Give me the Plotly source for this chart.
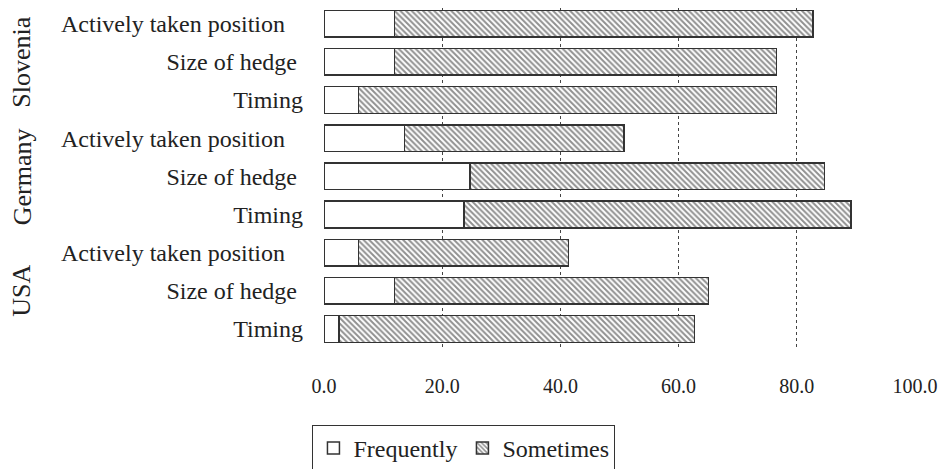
import plotly.graph_objects as go

# ---------------------------------------------------------------------------
# Data (top row first)
# ---------------------------------------------------------------------------
countries = ["Slovenia", "Germany", "USA"]
aspects = ["Actively taken position", "Size of hedge", "Timing"]
frequently = [11.9, 11.9, 5.8, 13.6, 24.7, 23.7, 5.8, 11.9, 2.5]
sometimes = [70.8, 64.7, 70.8, 37.2, 60.0, 65.5, 35.6, 53.2, 60.2]
x_ticks = [0, 20, 40, 60, 80, 100]

FONT = "Liberation Serif, Times New Roman, serif"
EDGE = "#333333"
TEXT = "#222222"

# unique category ids, one per country/aspect pair
rows = [f"{c}|{a}" for c in countries for a in aspects]
# trailing no-break spaces mimic the uneven right edge of the original labels
pad = {"Actively taken position": 3, "Size of hedge": 1, "Timing": 0}
row_text = [a + "\u00a0" * pad[a] for c in countries for a in aspects]

fig = go.Figure()
fig.add_trace(go.Bar(
    y=rows,
    x=frequently,
    orientation="h",
    name="Frequently",
    marker=dict(color="white", line=dict(color=EDGE, width=1.5)),
))
fig.add_trace(go.Bar(
    y=rows,
    x=sometimes,
    orientation="h",
    name="Sometimes",
    marker=dict(
        color="white",
        line=dict(color=EDGE, width=1.5),
        pattern=dict(shape="\\", size=4, solidity=0.5,
                     fgcolor="#222222", bgcolor="white"),
    ),
))

# country group labels, rotated, centred on the middle row of each group
for c in countries:
    fig.add_annotation(
        x=-0.511, xref="paper", xanchor="center",
        y=f"{c}|{aspects[1]}", yref="y", yanchor="middle",
        text=c, textangle=-90, showarrow=False,
        font=dict(family=FONT, size=26, color=TEXT),
    )

# the page body adds an 8px offset, so the figure is sized to fit the window
fig.update_layout(
    width=944,
    height=461,
    barmode="stack",
    bargap=0.3,
    paper_bgcolor="white",
    plot_bgcolor="white",
    margin=dict(l=316, r=37, t=0, b=121, autoexpand=False),
    font=dict(family=FONT, color=TEXT),
    xaxis=dict(
        range=[0, 100],
        tickvals=x_ticks,
        tickformat=".1f",
        showgrid=True,
        gridcolor="#444444",
        griddash="dot",
        gridwidth=1,
        zeroline=False,
        showline=False,
        ticks="",
        automargin=False,
        ticklabelstandoff=24,
        tickfont=dict(family=FONT, size=20, color=TEXT),
    ),
    yaxis=dict(
        range=[8.5, -0.41],
        tickvals=rows,
        ticktext=row_text,
        showgrid=False,
        zeroline=False,
        showline=False,
        ticks="",
        automargin=False,
        ticklabelstandoff=20,
        tickfont=dict(family=FONT, size=24, color=TEXT),
    ),
    legend=dict(
        orientation="h",
        xref="container", x=0.483, xanchor="center",
        yref="container", y=0.0954, yanchor="top",
        bordercolor=EDGE,
        borderwidth=1,
        font=dict(family=FONT, size=24, color=TEXT),
        traceorder="normal",
    ),
)

fig.write_html("out.html")
